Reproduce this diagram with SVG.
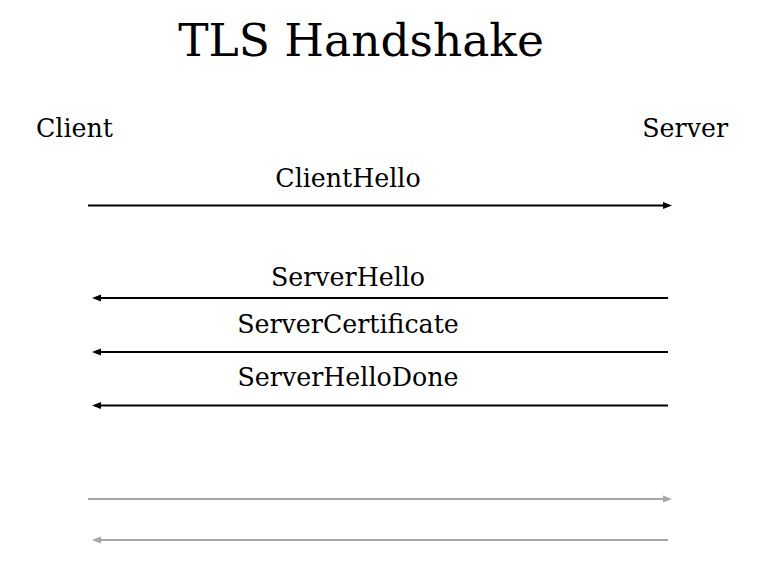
<svg xmlns="http://www.w3.org/2000/svg" width="771" height="579" viewBox="0 0 771 579">
<style>
text { font-family: "DejaVu Serif", "Liberation Serif", serif; fill: #000; }
.lbl { font-size: 25.3px; }
.mid { text-anchor: middle; }
.blk { stroke: #000; stroke-width: 2; fill: none; }
.gry { stroke: #a5a8a8; stroke-width: 2; fill: none; }
</style>
<defs>
<marker id="ab" markerUnits="userSpaceOnUse" markerWidth="10" markerHeight="9" refX="0" refY="4.5" orient="auto">
<path d="M0,1 L9,4.5 L0,8 z" fill="#000"/>
</marker>
<marker id="ag" markerUnits="userSpaceOnUse" markerWidth="10" markerHeight="9" refX="0" refY="4.5" orient="auto">
<path d="M0,1 L9,4.5 L0,8 z" fill="#a5a8a8"/>
</marker>
</defs>
<text id="title" x="361" y="56" class="mid" style="font-size:45.5px">TLS Handshake</text>
<g id="client"><text x="36" y="137" class="lbl">Client</text></g>
<g id="server"><text x="728" y="137" class="lbl" text-anchor="end">Server</text></g>
<g id="connectors">
<line class="blk" x1="88" y1="205.5" x2="663" y2="205.5" marker-end="url(#ab)"/>
<line class="blk" x1="668" y1="298" x2="101" y2="298" marker-end="url(#ab)"/>
<line class="blk" x1="668" y1="352" x2="101" y2="352" marker-end="url(#ab)"/>
<line class="blk" x1="668" y1="405.5" x2="101" y2="405.5" marker-end="url(#ab)"/>
<line class="gry" x1="88" y1="499" x2="663" y2="499" marker-end="url(#ag)"/>
<line class="gry" x1="668" y1="540" x2="101" y2="540" marker-end="url(#ag)"/>
</g>
<g id="labels">
<text x="348" y="187" class="lbl mid">ClientHello</text>
<text x="348" y="286" class="lbl mid">ServerHello</text>
<text x="348" y="333" class="lbl mid">ServerCertificate</text>
<text x="348" y="386" class="lbl mid">ServerHelloDone</text>
</g>
</svg>
